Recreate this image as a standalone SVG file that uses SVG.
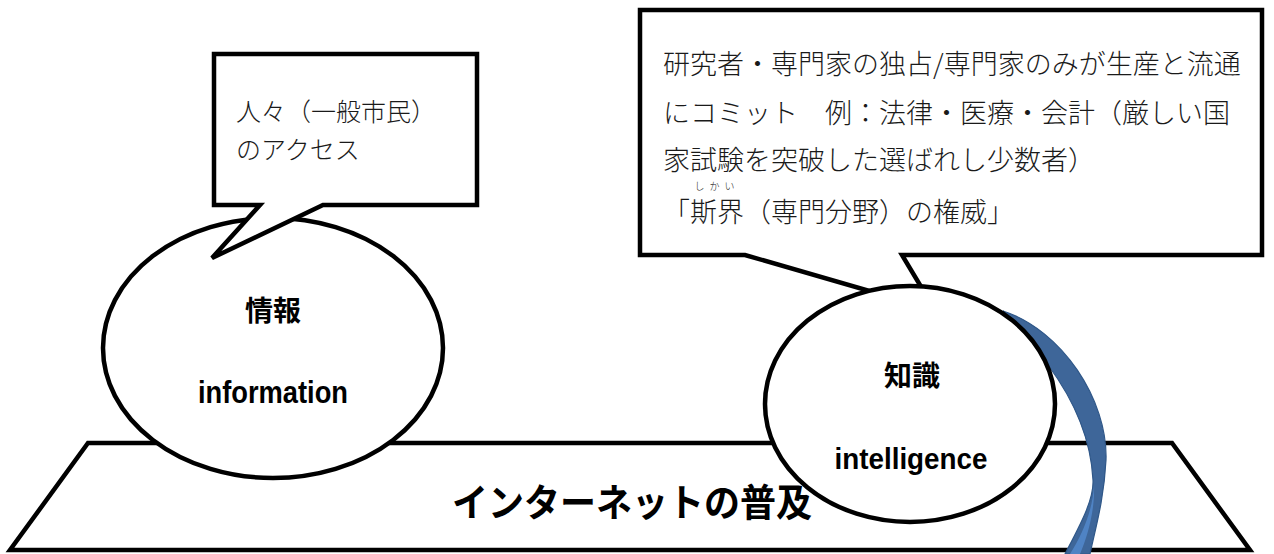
<svg xmlns="http://www.w3.org/2000/svg" width="1274" height="554" viewBox="0 0 1274 554">
<style>
.shape{fill:#fff;stroke:#000;stroke-width:4.5;stroke-linejoin:miter}
.jp{font-family:"Noto Sans CJK JP","Noto Sans CJK SC",sans-serif;font-weight:300;fill:#1a1a1a}
.lbl{font-family:"Noto Sans CJK JP","Noto Sans CJK SC",sans-serif;font-weight:700;fill:#000}
.en{font-family:"Liberation Sans Narrow","Liberation Sans",Arial,sans-serif;font-weight:bold;fill:#000}
</style>
<rect width="1274" height="554" fill="#fff"/>
<g id="base">
<polygon class="shape" points="88,443 1172,443 1250,550 10,550"/>
<text class="lbl" x="632" y="516" font-size="38" font-weight="900" text-anchor="middle" textLength="360" lengthAdjust="spacingAndGlyphs">インターネットの普及</text>
</g>
<g id="connectors">
<path d="M1003,311 C1062,330 1108,400 1106,460 C1104,500 1095,530 1090,554 L1065,554 C1080,525 1094,500 1093,480 C1091,440 1074,400 1048,365 C1033,345 1020,325 1003,311 Z" fill="#3E6699" stroke="#2F5788" stroke-width="1.2"/>
<path d="M1094,485 C1093,510 1082,535 1070,554 L1080,554 C1088,535 1095,510 1094,485 Z" fill="#4F83C4"/>
</g>
<g id="callout-knowledge">
<path class="shape" d="M640,10 L1262,10 L1262,255 L902,255 L935,310 L745,255 L640,255 Z"/>
<text class="jp" font-size="27">
<tspan x="663" y="74">研究者・専門家の独占/専門家のみが生産と流通</tspan>
<tspan x="663" y="123">にコミット　例：法律・医療・会計（厳しい国</tspan>
<tspan x="663" y="170">家試験を突破した選ばれし少数者）</tspan>
<tspan x="663" y="222">「斯界（専門分野）の権威」</tspan>
</text>
<text class="jp" x="717" y="190" font-size="10" text-anchor="middle" letter-spacing="5">しかい</text>
</g>
<g id="node-knowledge">
<ellipse class="shape" cx="910" cy="404" rx="145" ry="118"/>
<text class="lbl" x="912" y="386" font-size="28" text-anchor="middle">知識</text>
<text class="en" x="911" y="469" font-size="30" text-anchor="middle" textLength="153" lengthAdjust="spacingAndGlyphs">intelligence</text>
</g>
<g id="node-information">
<ellipse class="shape" cx="273" cy="348" rx="170" ry="130"/>
<text class="lbl" x="273" y="321" font-size="28" text-anchor="middle">情報</text>
<text class="en" x="273" y="403" font-size="32" text-anchor="middle" textLength="150" lengthAdjust="spacingAndGlyphs">information</text>
</g>
<g id="callout-information">
<path class="shape" d="M214,54 L477,54 L477,205 L323,205 L212,258 L260,205 L214,205 Z"/>
<text class="jp" font-size="25">
<tspan x="236" y="121">人々（一般市民）</tspan>
<tspan x="236" y="159">のアクセス</tspan>
</text>
</g>
</svg>
